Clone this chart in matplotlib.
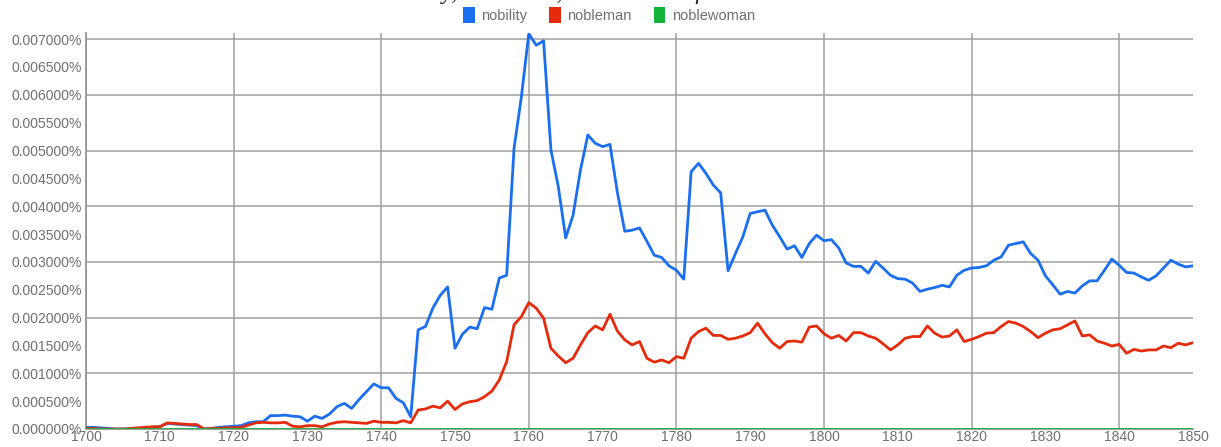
import numpy as np
import matplotlib
matplotlib.use('Agg')
from matplotlib import pyplot as plt
from matplotlib.ticker import MultipleLocator, FuncFormatter
from matplotlib.patches import Patch

plt.rcParams['font.family'] = ['Liberation Sans', 'DejaVu Sans']

############# data (values in units of 0.001 %) ##############################
years = np.arange(1700, 1851)

nobility = [
    0.03, 0.03, 0.02, 0.01, 0.00, 0.00, 0.00, 0.01, 0.02, 0.03,   # 1700-1709
    0.04, 0.10, 0.09, 0.08, 0.07, 0.06, 0.00, 0.01, 0.03, 0.04,   # 1710-1719
    0.05, 0.06, 0.11, 0.13, 0.13, 0.24, 0.24, 0.25, 0.23, 0.22,   # 1720-1729
    0.14, 0.23, 0.19, 0.27, 0.40, 0.46, 0.37, 0.53, 0.67, 0.81,   # 1730-1739
    0.74, 0.74, 0.55, 0.47, 0.22, 1.78, 1.84, 2.17, 2.40, 2.55,   # 1740-1749
    1.45, 1.70, 1.83, 1.80, 2.18, 2.15, 2.71, 2.76, 5.04, 5.97,   # 1750-1759
    7.10, 6.89, 6.97, 5.01, 4.35, 3.43, 3.84, 4.65, 5.28, 5.13,   # 1760-1769
    5.07, 5.11, 4.25, 3.55, 3.57, 3.61, 3.37, 3.12, 3.08, 2.93,   # 1770-1779
    2.85, 2.69, 4.62, 4.77, 4.59, 4.38, 4.24, 2.84, 3.15, 3.45,   # 1780-1789
    3.87, 3.90, 3.93, 3.66, 3.45, 3.23, 3.29, 3.08, 3.33, 3.48,   # 1790-1799
    3.38, 3.40, 3.25, 2.98, 2.92, 2.92, 2.80, 3.01, 2.89, 2.76,   # 1800-1809
    2.70, 2.69, 2.62, 2.47, 2.51, 2.54, 2.58, 2.55, 2.76, 2.85,   # 1810-1819
    2.89, 2.90, 2.93, 3.03, 3.09, 3.30, 3.33, 3.36, 3.15, 3.03,   # 1820-1829
    2.75, 2.59, 2.42, 2.47, 2.44, 2.57, 2.66, 2.66, 2.85, 3.05,   # 1830-1839
    2.94, 2.81, 2.80, 2.73, 2.67, 2.75, 2.89, 3.03, 2.96, 2.91,   # 1840-1849
    2.93]                                                          # 1850

nobleman = [
    0.01, 0.01, 0.00, 0.00, 0.00, 0.00, 0.01, 0.02, 0.03, 0.04,   # 1700-1709
    0.04, 0.11, 0.10, 0.09, 0.08, 0.08, 0.00, 0.01, 0.01, 0.02,   # 1710-1719
    0.02, 0.03, 0.07, 0.11, 0.12, 0.11, 0.11, 0.12, 0.05, 0.04,   # 1720-1729
    0.06, 0.06, 0.04, 0.09, 0.12, 0.13, 0.12, 0.11, 0.10, 0.14,   # 1730-1739
    0.12, 0.12, 0.11, 0.15, 0.11, 0.34, 0.36, 0.41, 0.38, 0.50,   # 1740-1749
    0.35, 0.45, 0.49, 0.51, 0.58, 0.68, 0.88, 1.21, 1.87, 2.02,   # 1750-1759
    2.27, 2.17, 1.99, 1.45, 1.31, 1.19, 1.27, 1.51, 1.73, 1.85,   # 1760-1769
    1.78, 2.06, 1.76, 1.60, 1.51, 1.57, 1.27, 1.20, 1.24, 1.19,   # 1770-1779
    1.30, 1.27, 1.63, 1.75, 1.81, 1.68, 1.68, 1.61, 1.63, 1.67,   # 1780-1789
    1.73, 1.90, 1.71, 1.55, 1.45, 1.57, 1.58, 1.56, 1.83, 1.85,   # 1790-1799
    1.71, 1.63, 1.68, 1.58, 1.73, 1.73, 1.67, 1.63, 1.53, 1.42,   # 1800-1809
    1.51, 1.63, 1.66, 1.66, 1.85, 1.72, 1.65, 1.67, 1.78, 1.57,   # 1810-1819
    1.61, 1.66, 1.72, 1.73, 1.84, 1.93, 1.90, 1.84, 1.75, 1.64,   # 1820-1829
    1.72, 1.78, 1.80, 1.87, 1.94, 1.67, 1.69, 1.58, 1.54, 1.49,   # 1830-1839
    1.52, 1.36, 1.43, 1.40, 1.42, 1.42, 1.49, 1.46, 1.54, 1.51,   # 1840-1849
    1.55]                                                          # 1850

noblewoman = [0.005] * 151

series_names = ['nobility', 'nobleman', 'noblewoman']
series_colors = ['#1a6ff0', '#e62b0c', '#14b43c']
##############################################################################

fig = plt.figure(figsize=(12.21, 4.47), dpi=100)
ax = fig.add_axes([86/1221, 18/447, (1193-86)/1221, (429-33)/447])

for name, vals, col in zip(series_names, [nobility, nobleman, noblewoman], series_colors):
    ax.plot(years, np.array(vals) * 1e-3, color=col, linewidth=2.0,
            label=name, solid_joinstyle='round', zorder=3)

ax.set_xlim(1700, 1850)
ax.set_ylim(0, 0.00711)

# gridlines every 20 years / 0.001%, labels every 10 years / 0.0005%
ax.xaxis.set_major_locator(MultipleLocator(20))
ax.xaxis.set_minor_locator(MultipleLocator(10))
ax.yaxis.set_major_locator(MultipleLocator(0.001))
ax.yaxis.set_minor_locator(MultipleLocator(0.0005))
xfmt = FuncFormatter(lambda v, p: '%d' % v)
yfmt = FuncFormatter(lambda v, p: '%.6f%%' % v)
ax.xaxis.set_major_formatter(xfmt)
ax.xaxis.set_minor_formatter(xfmt)
ax.yaxis.set_major_formatter(yfmt)
ax.yaxis.set_minor_formatter(yfmt)

ax.grid(True, which='major', color='#a0a0a0', linewidth=1.1)
ax.set_axisbelow(True)
ax.tick_params(which='both', length=0, labelcolor='#707070', labelsize=10)
ax.tick_params(axis='y', which='both', pad=3)
ax.tick_params(axis='x', which='both', pad=1)

for s in ['top', 'right']:
    ax.spines[s].set_visible(False)
ax.spines['left'].set_color('#909090')
ax.spines['left'].set_linewidth(1.2)
ax.spines['bottom'].set_color('#a0a0a0')

# legend with coloured squares at the top
handles = [Patch(facecolor=c, edgecolor='none') for c in series_colors]
fig.legend(handles, series_names, loc='center', bbox_to_anchor=(609/1221, 1 - 15/447),
           ncol=3, frameon=False, handlelength=0.8, handleheight=1.3,
           handletextpad=0.45, columnspacing=1.5, fontsize=10.5, labelcolor='#707070')

# title at the very top, mostly cut off as in the source image
fig.text(620/1221, 1 + 1/447, 'nobility, nobleman, noblewoman from 1700 - 1850',
         ha='center', va='baseline', fontsize=17, family='Liberation Serif',
         style='italic', color='#222222')

plt.savefig('out.png', dpi=100)
